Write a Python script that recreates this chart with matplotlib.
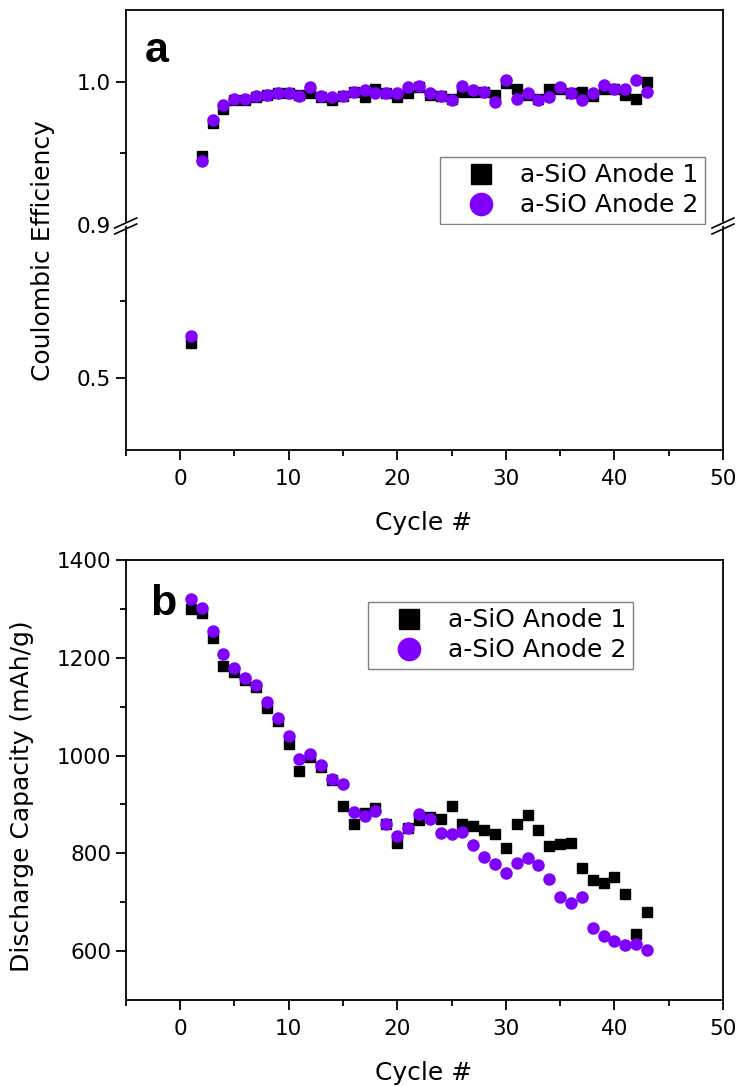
import matplotlib
matplotlib.use("Agg")
import matplotlib.pyplot as plt
from matplotlib.lines import Line2D
from matplotlib.patches import Polygon

plt.rcParams['font.family'] = ['DejaVu Sans']

cycles = list(range(1, 44))

# coulombic efficiency
ce_anode1 = [0.59, 0.948, 0.971, 0.981, 0.987, 0.987, 0.989, 0.991, 0.992, 0.992,
             0.991, 0.992, 0.989, 0.987, 0.990, 0.993, 0.989, 0.995, 0.992, 0.989,
             0.992, 0.996, 0.991, 0.990, 0.988, 0.993, 0.993, 0.993, 0.991, 0.999,
             0.995, 0.991, 0.988, 0.995, 0.995, 0.992, 0.993, 0.990, 0.995, 0.995,
             0.991, 0.988, 1.000]
ce_anode2 = [0.61, 0.945, 0.973, 0.984, 0.988, 0.988, 0.990, 0.991, 0.992, 0.992,
             0.990, 0.9965, 0.990, 0.989, 0.990, 0.993, 0.994, 0.992, 0.992, 0.992,
             0.996, 0.997, 0.992, 0.990, 0.987, 0.997, 0.994, 0.993, 0.986, 1.001,
             0.988, 0.992, 0.987, 0.989, 0.996, 0.992, 0.987, 0.992, 0.998, 0.995,
             0.995, 1.001, 0.993]

# discharge capacity (mAh/g)
cap_anode1 = [1299, 1291, 1241, 1183, 1171, 1155, 1140, 1098, 1070, 1024,
              969, 998, 976, 949, 897, 860, 882, 893, 860, 822,
              851, 868, 875, 870, 897, 859, 855, 848, 839, 810,
              860, 879, 848, 815, 819, 821, 771, 745, 740, 752,
              716, 636, 679]
cap_anode2 = [1320, 1301, 1254, 1207, 1179, 1159, 1145, 1109, 1077, 1039,
              992, 1004, 980, 952, 941, 884, 877, 886, 860, 836,
              851, 880, 870, 841, 839, 843, 817, 793, 779, 760,
              781, 791, 776, 747, 711, 699, 711, 648, 631, 621,
              612, 614, 602]

labels = ['a-SiO Anode 1', 'a-SiO Anode 2']
violet = '#8000ff'

W, H = 738, 1087
fig = plt.figure(figsize=(W / 100, H / 100), dpi=100)

def box(x0, y0, x1, y1):
    # pixel box (top-left origin) -> figure fraction
    return [x0 / W, 1 - y1 / H, (x1 - x0) / W, (y1 - y0) / H]

ax_hi = fig.add_axes(box(125.7, 10, 723, 225))
ax_lo = fig.add_axes(box(125.7, 225, 723, 450))
ax_b = fig.add_axes(box(125.7, 560, 723, 1000))

for ax in (ax_hi, ax_lo):
    ax.plot(cycles, ce_anode1, 's', color='black', markersize=7, label=labels[0])
    ax.plot(cycles, ce_anode2, 'o', color=violet, markersize=8, label=labels[1])
ax_b.plot(cycles, cap_anode1, 's', color='black', markersize=7, label=labels[0])
ax_b.plot(cycles, cap_anode2, 'o', color=violet, markersize=8, label=labels[1])

ax_hi.set_ylim(0.9, 1.05)
ax_lo.set_ylim(0.31, 0.9)
ax_b.set_ylim(500, 1400)

for ax in (ax_hi, ax_lo, ax_b):
    ax.set_xlim(-5, 50)
    ax.set_xticks(range(0, 51, 10))
    ax.set_xticks(range(-5, 50, 10), minor=True)
    for s in ax.spines.values():
        s.set_linewidth(1.3)
    ax.tick_params(which='both', direction='out', top=False, right=False,
                   width=1.3, labelsize=15.5)
    ax.tick_params(which='major', length=7)
    ax.tick_params(which='minor', length=4)
    ax.tick_params(axis='x', pad=7)

ax_hi.spines['bottom'].set_visible(False)
ax_lo.spines['top'].set_visible(False)
ax_hi.tick_params(axis='x', which='both', bottom=False, labelbottom=False)

ax_hi.set_yticks([1.0])
ax_hi.set_yticks([0.95], minor=True)
ax_hi.set_yticklabels(['1.0'])
ax_lo.set_yticks([0.5, 0.9])
ax_lo.set_yticks([0.7], minor=True)
ax_lo.set_yticklabels(['0.5', '0.9'])
ax_lo.yaxis.get_major_ticks()[1].tick1line.set_visible(False)

ax_b.set_yticks(range(600, 1401, 200))
ax_b.set_yticks(range(700, 1400, 200), minor=True)

# axis break marks
for xb in (125.7, 723):
    yb = 225
    gap = Polygon([((xb - 9) / W, 1 - (yb + 1) / H), ((xb + 9) / W, 1 - (yb - 7) / H),
                   ((xb + 9) / W, 1 - (yb - 3) / H), ((xb - 9) / W, 1 - (yb + 5) / H)],
                  closed=True, facecolor='white', edgecolor='none',
                  transform=fig.transFigure, zorder=5)
    fig.add_artist(gap)
    for d in (-2, 4):
        fig.add_artist(Line2D([(xb - 11) / W, (xb + 11) / W],
                              [1 - (yb + 5 + d) / H, 1 - (yb - 5 + d) / H],
                              color='black', linewidth=1.2,
                              transform=fig.transFigure, zorder=6))

# axis labels
fig.text(43 / W, 1 - 251 / H, 'Coulombic Efficiency', rotation=90,
         ha='center', va='center', fontsize=18)
fig.text(424 / W, 1 - 523 / H, 'Cycle #', ha='center', va='center', fontsize=18)
fig.text(22 / W, 1 - 796 / H, 'Discharge Capacity (mAh/g)', rotation=90,
         ha='center', va='center', fontsize=18)
fig.text(424 / W, 1 - 1073 / H, 'Cycle #', ha='center', va='center', fontsize=18)

fig.text(145 / W, 1 - 62 / H, 'a', fontsize=31, fontweight='bold', va='baseline',
         family='Liberation Sans')
fig.text(150 / W, 1 - 615 / H, 'b', fontsize=31, fontweight='bold', va='baseline',
         family='Liberation Sans')

# legends
leg_opts = dict(loc='upper left', bbox_transform=fig.transFigure, fontsize=18,
                markerscale=2, fancybox=False, edgecolor='#808080', framealpha=1,
                borderpad=0.25, labelspacing=0.24, handletextpad=0.15,
                handlelength=2.8, borderaxespad=0)
leg_a = ax_hi.legend(bbox_to_anchor=(440 / W, 1 - 157 / H), **leg_opts)
leg_a.get_frame().set_linewidth(1.0)
leg_b = ax_b.legend(bbox_to_anchor=(368 / W, 1 - 602 / H), **leg_opts)
leg_b.get_frame().set_linewidth(1.0)

fig.savefig('out.png', dpi=100)
